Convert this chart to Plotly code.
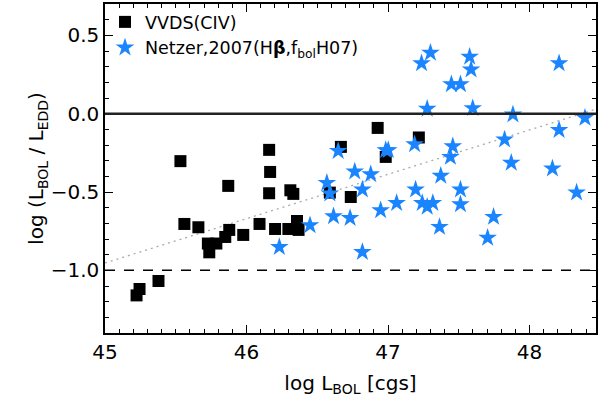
import plotly.graph_objects as go

# VVDS (CIV) points
vvds_x = [45.533, 46.160, 46.167, 46.160, 45.871, 46.667, 46.310, 46.331, 46.589,
          45.561, 45.660, 45.727, 45.787, 45.737, 45.850, 45.878, 45.977, 46.092,
          46.202, 46.296, 46.357, 46.368, 45.244, 45.223, 45.378,
          46.927, 47.218, 46.984, 46.737]
vvds_y = [-0.303, -0.231, -0.372, -0.508, -0.461, -0.212, -0.489, -0.512, -0.504,
          -0.704, -0.725, -0.829, -0.829, -0.885, -0.787, -0.742, -0.774, -0.704,
          -0.736, -0.736, -0.685, -0.742, -1.119, -1.160, -1.068,
          -0.091, -0.152, -0.276, -0.532]

# Netzer 2007 points
netzer_x = [47.237, 47.300, 47.577, 47.587, 47.448, 47.512, 47.277, 47.599, 48.209,
            47.883, 48.392, 48.209, 47.824, 47.871, 48.162, 48.333, 47.188, 47.458,
            47.441, 47.373, 47.512, 47.512, 47.195, 47.242, 47.277, 47.317, 47.061,
            46.948, 47.364, 47.746, 47.704, 46.819, 46.984, 47.002, 46.648, 46.765,
            46.878, 46.819, 46.568, 46.589, 46.615, 46.732, 46.449, 46.232]
netzer_y = [0.321, 0.389, 0.363, 0.282, 0.188, 0.188, 0.031, 0.035, 0.321,
            -0.005, -0.027, -0.105, -0.165, -0.314, -0.350, -0.504, -0.195, -0.208,
            -0.276, -0.397, -0.484, -0.578, -0.484, -0.570, -0.595, -0.570, -0.570,
            -0.617, -0.723, -0.659, -0.793, -0.883, -0.233, -0.233, -0.238, -0.369,
            -0.387, -0.484, -0.442, -0.510, -0.655, -0.666, -0.712, -0.851]

# Fit line (dotted) parameters
fit_intercept_at_45 = -0.953
fit_slope = 0.283
fit_x = [45.0, 48.5]
fit_y = [fit_intercept_at_45 + fit_slope * (x - 45.0) for x in fit_x]

x_range = [45.0, 48.47]
y_range = [-1.4, 0.7]
x_ticks = [45, 46, 47, 48]
y_ticks = [-1.0, -0.5, 0.0, 0.5]

FONT = "DejaVu Sans"

fig = go.Figure()

fig.add_trace(go.Scatter(x=fit_x, y=fit_y, mode="lines", showlegend=False,
                         line=dict(color="#aaaaaa", width=1.3, dash="2px,4px"),
                         hoverinfo="skip"))

fig.add_trace(go.Scatter(x=vvds_x, y=vvds_y, mode="markers", name="VVDS(CIV)",
                         marker=dict(symbol="square", size=12, color="black",
                                     line=dict(width=0))))
fig.add_trace(go.Scatter(x=netzer_x, y=netzer_y, mode="markers",
                         name="Netzer,2007(H<b>β</b>,f<sub>bol</sub>H07)",
                         marker=dict(symbol="star", size=14, color="#1a85ff",
                                     line=dict(width=0))))

fig.add_hline(y=0.0, line=dict(color="#222222", width=2.5))
fig.add_hline(y=-1.0, line=dict(color="black", width=1.5, dash="10px,9px"))

axis_common = dict(showgrid=False, zeroline=False, showline=True, linecolor="black",
                   linewidth=1.5, mirror="allticks", ticks="inside", ticklen=8,
                   tickwidth=1, tickcolor="black",
                   tickfont=dict(family=FONT, size=20, color="black"))

fig.update_xaxes(range=x_range, tickvals=x_ticks, ticktext=[str(t) for t in x_ticks],
                 minor=dict(dtick=0.1, ticks="inside", ticklen=4, tickcolor="black",
                            showgrid=False),
                 title=dict(text="log L<sub>BOL</sub> [cgs]",
                            font=dict(family=FONT, size=20, color="black"), standoff=13),
                 **axis_common)
fig.update_yaxes(range=y_range, tickvals=y_ticks, tickformat=".1f",
                 minor=dict(dtick=0.1, ticks="inside", ticklen=4, tickcolor="black",
                            showgrid=False),
                 title=dict(text="log (L<sub>BOL</sub> / L<sub>EDD</sub>)",
                            font=dict(family=FONT, size=20, color="black"), standoff=0),
                 **axis_common)

fig.update_layout(
    width=600, height=407,
    margin=dict(l=105, r=2, t=4, b=74),
    paper_bgcolor="white", plot_bgcolor="white",
    font=dict(family=FONT, size=17, color="black"),
    legend=dict(x=0.0, y=1.0, xanchor="left", yanchor="top",
                bgcolor="rgba(0,0,0,0)", font=dict(family=FONT, size=17.5),
                tracegroupgap=0, itemsizing="trace"),
    showlegend=True,
)

fig.write_html("out.html")
